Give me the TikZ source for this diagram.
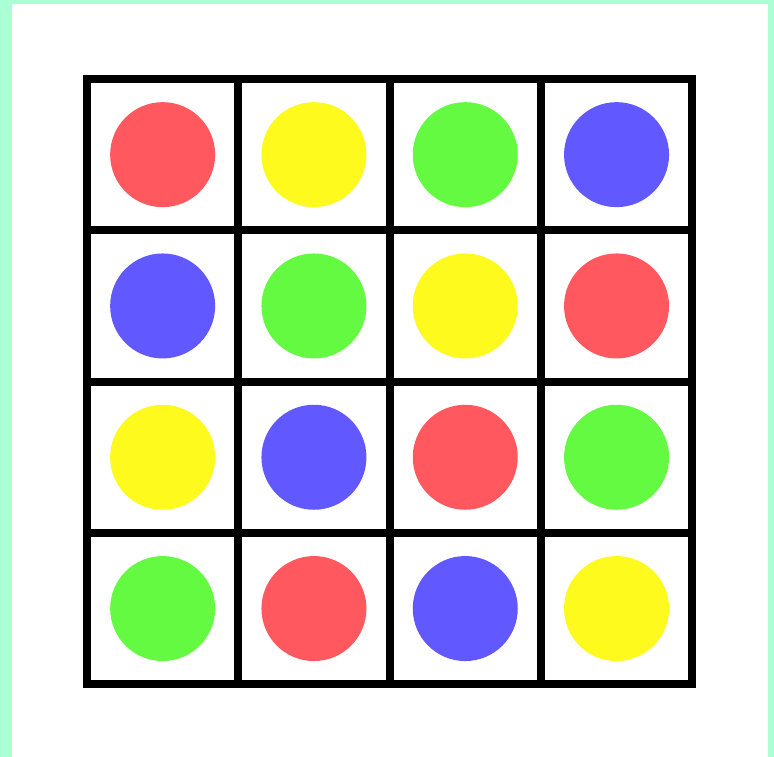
\documentclass[tikz,border=0pt]{standalone}
\usepackage{xcolor}
\usetikzlibrary{math, calc}

\definecolor{mint}{RGB}{170,255,212}
\definecolor{dotred}{RGB}{255,88,94}
\definecolor{dotyellow}{RGB}{255,250,30}
\definecolor{dotgreen}{RGB}{100,250,66}
\definecolor{dotblue}{RGB}{98,88,255}

\begin{document}
\begin{tikzpicture}[x=0.02cm,y=-0.02cm]
\tikzmath{
\a=151.3;
\r=52.5;
}
 \coordinate (O) at (87,79);

 %frame:
 \fill[mint] (0,0) rectangle (774,757);
 \fill[white] (12,4) rectangle (768,757);
 \useasboundingbox (0,0) rectangle (774,757);

 %dots, row by row:
 \foreach \c [count=\i from 0] in {dotred,dotyellow,dotgreen,dotblue,
                                   dotblue,dotgreen,dotyellow,dotred,
                                   dotyellow,dotblue,dotred,dotgreen,
                                   dotgreen,dotred,dotblue,dotyellow}{
  \pgfmathsetmacro{\col}{mod(\i,4)}
  \pgfmathsetmacro{\row}{int(\i/4)}
  \fill[\c] ($(O)+({(\col+0.5)*\a},{(\row+0.5)*\a})$) circle[radius=\r];
 }

 %grid:
 \draw[line width=4.5pt] (O) rectangle ++(4*\a,4*\a);
 \foreach \k in {1,2,3}{
  \draw[line width=4.5pt] ($(O)+(\k*\a,0)$) -- ++(0,4*\a);
  \draw[line width=4.5pt] ($(O)+(0,\k*\a)$) -- ++(4*\a,0);
 }
\end{tikzpicture}
\end{document}
